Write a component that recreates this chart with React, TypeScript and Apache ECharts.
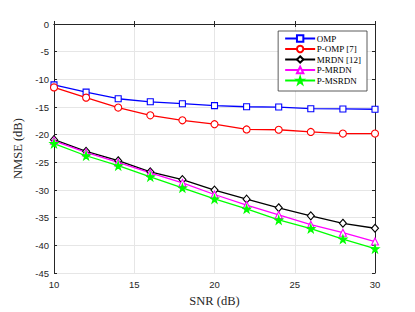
import React, { useEffect, useRef } from "react";
import * as echarts from "echarts";

const snr = [10, 12, 14, 16, 18, 20, 22, 24, 26, 28, 30];
const omp = [-11.0, -12.3, -13.5, -14.05, -14.4, -14.75, -14.95, -15.0, -15.3, -15.35, -15.4];
const pomp = [-11.45, -13.3, -15.1, -16.5, -17.4, -18.1, -19.05, -19.1, -19.5, -19.8, -19.8];
const mrdn = [-20.9, -23.0, -24.7, -26.7, -28.1, -30.0, -31.65, -33.2, -34.65, -36.0, -36.9];
const pmrdn = [-21.1, -23.2, -25.0, -26.9, -28.7, -30.8, -32.7, -34.5, -36.25, -37.7, -39.3];
const pmsrdn = [-21.6, -23.8, -25.6, -27.6, -29.6, -31.6, -33.4, -35.4, -36.95, -38.85, -40.6];
const names = ["OMP", "P-OMP [7]", "MRDN [12]", "P-MRDN", "P-MSRDN"];

const star = "path://M50,0 L61,35 L98,35 L68,57 L79,91 L50,70 L21,91 L32,57 L2,35 L39,35 Z";

export default function App() {
  const ref = useRef<HTMLDivElement>(null);
  useEffect(() => {
    const chart = echarts.init(ref.current!, null, { renderer: "svg" });
    const mk = (name: string, data: number[], color: string, symbol: string, size: number | number[], filled = false) => ({
      name,
      type: "line",
      data: snr.map((x, i) => [x, data[i]]),
      symbol,
      symbolSize: size,
      showSymbol: true,
      lineStyle: { color, width: 1.3 },
      itemStyle: { color: filled ? color : "#ffffff", borderColor: color, borderWidth: 1.1 },
      emphasis: { disabled: true },
    });
    const tickLabel = { color: "#262626", fontFamily: "Liberation Sans", fontSize: 9.5 };
    chart.setOption({
      animation: false,
      grid: { left: 54, right: 40, top: 24, bottom: 34 },
      legend: {
        orient: "vertical",
        right: 48,
        top: 31,
        itemWidth: 30,
        itemHeight: 8,
        itemGap: 0.5,
        padding: [2.5, 6, 5.5, 6],
        borderColor: "#333",
        borderWidth: 0.8,
        backgroundColor: "#fff",
        textStyle: { fontFamily: "Liberation Serif", fontSize: 9, lineHeight: 10, color: "#000", padding: [0, 0, 0, -3.4] },
        data: names,
      },
      xAxis: [
        {
          type: "value", min: 10, max: 30, interval: 5,
          name: "SNR (dB)", nameLocation: "middle", nameGap: 18,
          nameTextStyle: { fontFamily: "Liberation Serif", fontSize: 12.5, color: "#262626" },
          axisLine: { lineStyle: { color: "#262626", width: 1 } },
          axisTick: { inside: true, length: 3, lineStyle: { color: "#262626" } },
          axisLabel: { ...tickLabel, margin: 6 },
          splitLine: { show: true, lineStyle: { color: "#e6e6e6", width: 1 } },
        },
        {
          type: "value", min: 10, max: 30, interval: 5, position: "top",
          axisLine: { lineStyle: { color: "#262626", width: 1 } },
          axisTick: { inside: true, length: 3, lineStyle: { color: "#262626" } },
          axisLabel: { show: false }, splitLine: { show: false },
        },
      ],
      yAxis: [
        {
          type: "value", min: -45, max: 0, interval: 5,
          name: "NMSE (dB)", nameLocation: "middle", nameGap: 23,
          nameTextStyle: { fontFamily: "Liberation Serif", fontSize: 12.5, color: "#262626" },
          axisLine: { show: true, lineStyle: { color: "#262626", width: 1 } },
          axisTick: { show: true, inside: true, length: 3, lineStyle: { color: "#262626" } },
          axisLabel: { ...tickLabel, margin: 5 },
          splitLine: { show: true, lineStyle: { color: "#e6e6e6", width: 1 } },
        },
        {
          type: "value", min: -45, max: 0, interval: 5, position: "right",
          axisLine: { show: true, lineStyle: { color: "#262626", width: 1 } },
          axisTick: { show: true, inside: true, length: 3, lineStyle: { color: "#262626" } },
          axisLabel: { show: false }, splitLine: { show: false },
        },
      ],
      series: [
        mk(names[0], omp, "#0000ff", "rect", 6),
        mk(names[1], pomp, "#ff0000", "circle", 7),
        mk(names[2], mrdn, "#000000", "diamond", [7, 8]),
        mk(names[3], pmrdn, "#ff00ff", "triangle", 7),
        mk(names[4], pmsrdn, "#00ff00", star, 8, true),
      ],
    });
    return () => chart.dispose();
  }, []);
  return <div ref={ref} style={{ position: "fixed", left: 0, top: 0, width: 415, height: 312, background: "#fff" }} />;
}
